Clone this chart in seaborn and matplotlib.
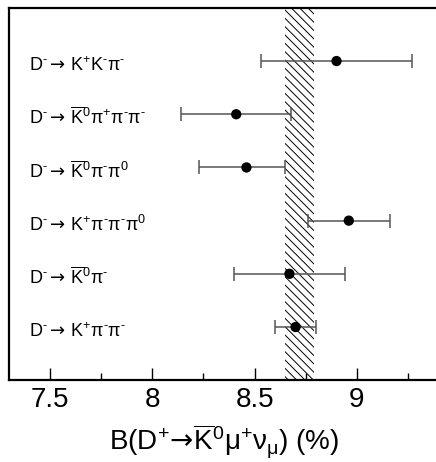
import matplotlib
matplotlib.use("Agg")
import matplotlib.pyplot as plt
import seaborn as sns
import pandas as pd
from matplotlib.ticker import MultipleLocator

# decay modes, top to bottom
modes = [
    r"$\mathrm{D^{‐}\mathsf{\rightarrow}\, K^{+}K^{‐}\pi^{‐}}$",
    r"$\mathrm{D^{‐}\mathsf{\rightarrow}\, \overline{K}^{0}\pi^{+}\pi^{‐}\pi^{‐}}$",
    r"$\mathrm{D^{‐}\mathsf{\rightarrow}\, \overline{K}^{0}\pi^{‐}\pi^{0}}$",
    r"$\mathrm{D^{‐}\mathsf{\rightarrow}\, K^{+}\pi^{‐}\pi^{‐}\pi^{0}}$",
    r"$\mathrm{D^{‐}\mathsf{\rightarrow}\, \overline{K}^{0}\pi^{‐}}$",
    r"$\mathrm{D^{‐}\mathsf{\rightarrow}\, K^{+}\pi^{‐}\pi^{‐}}$",
]
branching = [8.90, 8.41, 8.46, 8.96, 8.67, 8.70]
err_low = [8.53, 8.14, 8.23, 8.76, 8.40, 8.60]
err_high = [9.27, 8.68, 8.65, 9.16, 8.94, 8.80]
row = [6, 5, 4, 3, 2, 1]

# average band
band_lo = 8.65
band_hi = 8.79

xticks = [7.5, 8, 8.5, 9]
xtick_labels = ["7.5", "8", "8.5", "9"]

df = pd.DataFrame({"mode": modes, "B": branching, "lo": err_low, "hi": err_high, "row": row})

sns.set_style("ticks")
plt.rcParams["font.family"] = ["Liberation Sans", "DejaVu Sans"]
plt.rcParams["mathtext.fontset"] = "custom"
plt.rcParams["mathtext.rm"] = "Liberation Sans"
plt.rcParams["mathtext.it"] = "Liberation Sans:italic"
plt.rcParams["mathtext.sf"] = "DejaVu Sans"
plt.rcParams["hatch.linewidth"] = 0.7
for k in ["text.color", "axes.labelcolor", "xtick.color", "axes.edgecolor"]:
    plt.rcParams[k] = "black"

fig = plt.figure(figsize=(4.36, 4.62), dpi=100)
ax = fig.add_axes([0.0206, 0.177, 0.986, 0.806])

ax.axvspan(band_lo, band_hi, facecolor="none", edgecolor="black", hatch="\\\\\\\\", linewidth=0, zorder=1)

ax.errorbar(df["B"], df["row"], xerr=[df["B"] - df["lo"], df["hi"] - df["B"]],
            fmt="none", ecolor="#555555", elinewidth=1.1, capsize=5, capthick=1.1, zorder=2)
sns.scatterplot(data=df, x="B", y="row", color="black", s=55, edgecolor="none", ax=ax, zorder=3)

for _, r in df.iterrows():
    ax.text(7.40, r["row"] - 0.19, r["mode"], fontsize=13, ha="left", va="baseline")

ax.set_xlim(7.3, 9.4)
ax.set_ylim(0, 7)
ax.set_xticks(xticks)
ax.set_xticklabels(xtick_labels)
ax.xaxis.set_minor_locator(MultipleLocator(0.25))
ax.set_yticks([])
ax.set_ylabel("")
ax.tick_params(axis="x", which="major", direction="in", length=8.6, width=1, labelsize=20, pad=5)
ax.tick_params(axis="x", which="minor", direction="in", length=5, width=1)
for s in ax.spines.values():
    s.set_linewidth(1.6)
ax.set_xlabel(r"B(D$^{+}\!\mathsf{\rightarrow}\!\overline{\mathrm{K}}^{0}\mathrm{\mu}^{+}\mathrm{\nu}_{\mathrm{\mu}}$) (%)",
              fontsize=20, labelpad=7)

plt.savefig("out.png", dpi=100)
